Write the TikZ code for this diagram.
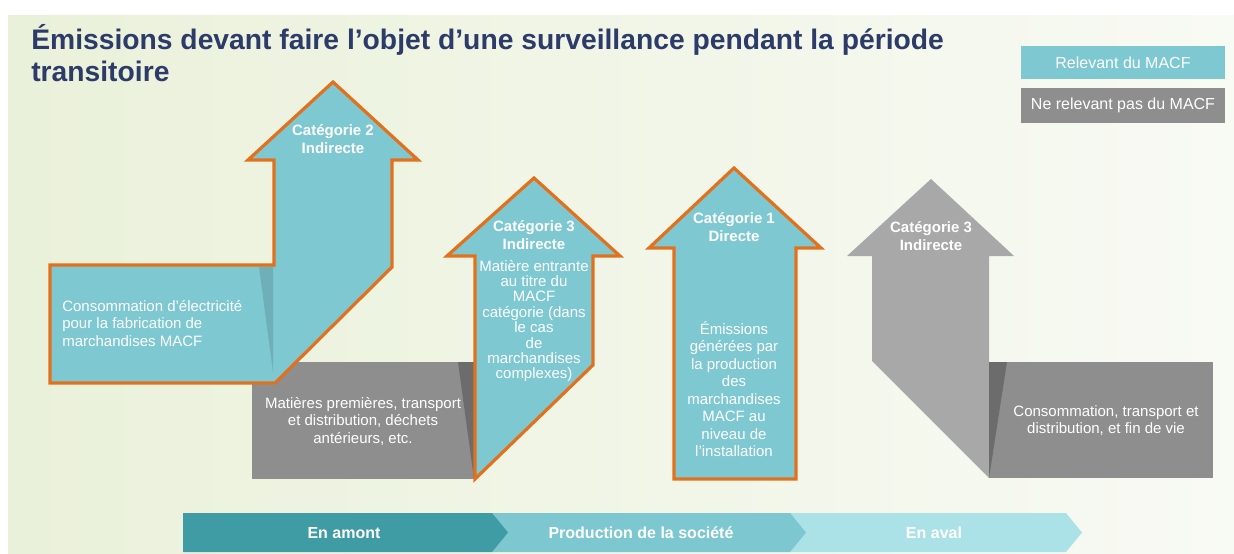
\documentclass[tikz,border=0pt]{standalone}
\usepackage{fontspec}
\setmainfont{Liberation Sans}
\usetikzlibrary{positioning}
\definecolor{macf}{HTML}{7EC8D2}
\definecolor{edge}{HTML}{E2711D}
\definecolor{lgray}{HTML}{A8A8A8}
\definecolor{mgray}{HTML}{8E8E8E}
\definecolor{dgray}{HTML}{6C6C6C}
\definecolor{navy}{HTML}{2D3B69}
\definecolor{bandA}{HTML}{3F9BA4}
\definecolor{bandB}{HTML}{7DC8D0}
\definecolor{bandC}{HTML}{ABE2E8}
\definecolor{bgl}{HTML}{EAF1DA}
\definecolor{bgr}{HTML}{F8FAF4}

\begin{document}
\begin{tikzpicture}[x=0.75pt, y=-0.75pt]
\tikzstyle{every node} = [text=white, inner sep=0pt, align=center, font=\fontsize{11.25}{13.1}\selectfont]
\tikzstyle{catlabel} = [font=\bfseries\fontsize{11.25}{13.1}\selectfont]
\tikzstyle{bandlabel} = [font=\bfseries\fontsize{12}{14}\selectfont]
\tikzstyle{legend} = [minimum width=153pt, font=\fontsize{12}{14}\selectfont]
\tikzstyle{upshape} = [fill=macf, draw=edge, line width=2.4pt, line join=miter]
\useasboundingbox (0,0) rectangle (1234,553);
\fill[white] (0,0) rectangle (1234,553);
\shade[left color=bgl, right color=bgr] (8,15) rectangle (1234,553);
% titre
\node[anchor=base west, text=navy, font=\bfseries\fontsize{21.2}{24}\selectfont] (title) at (31,49) {Émissions devant faire l’objet d’une surveillance pendant la période};
\node[anchor=base west, text=navy, font=\bfseries\fontsize{21.2}{24}\selectfont] (title2) at (31,81) {transitoire};
% legende
\node[legend, fill=macf, minimum height=24.75pt] (rel) at (1123,62.5) {Relevant du MACF};
\node[legend, fill=mgray, minimum height=26.25pt] (nrel) at (1123,105.5) {Ne relevant pas du MACF};
% bandeau
\fill[bandC] (790,513) -- (1066,513) -- (1082,532.5) -- (1066,552) -- (790,552) -- cycle;
\fill[bandB] (492,513) -- (790,513) -- (806,532.5) -- (790,552) -- (492,552) -- cycle;
\fill[bandA] (183,513) -- (492,513) -- (508,532.5) -- (492,552) -- (183,552) -- cycle;
\node[bandlabel] (amont) at (344,533) {En amont};
\node[bandlabel] (prod) at (641,533) {Production de la société};
\node[bandlabel] (aval) at (934,533) {En aval};
% amont
\fill[mgray] (252,362) rectangle (474,479);
\fill[dgray] (458,362) -- (474,362) -- (474,479) -- cycle;
\draw[upshape] (50,265) -- (274,265) -- (274,160) -- (248,160) -- (333,82) -- (418,160)
  -- (392,160) -- (392,267) -- (275,383) -- (50,383) -- cycle;
\fill[black, opacity=.12] (259,267) -- (273,267) -- (273,372) -- cycle;
\draw[upshape] (475,256) -- (447,256) -- (534,178) -- (620,256) -- (593,256) -- (593,365)
  -- (475,479) -- cycle;
\node[catlabel] (cat2) at (333,139) {Catégorie 2\\Indirecte};
\node[anchor=west, align=left] (elec) at (62,323.5) {Consommation d’électricité\\pour la fabrication de\\marchandises MACF};
\node (mat) at (363,421) {Matières premières, transport\\et distribution, déchets\\antérieurs, etc.};
\node[catlabel] (cat3a) at (534,235) {Catégorie 3\\Indirecte};
\node[font=\fontsize{11.25}{11.55}\selectfont] (entr) at (534,321) {Matière entrante\\au titre du\\MACF\\catégorie (dans\\le cas\\de\\marchandises\\complexes)};
% production
\draw[upshape] (674,479) -- (674,248) -- (649,248) -- (734,168) -- (821,248) -- (796,248)
  -- (796,479) -- cycle;
\node[catlabel] (cat1) at (734,227) {Catégorie 1\\Directe};
\node (prodtxt) at (734,389) {Émissions\\générées par\\la production\\des\\marchandises\\MACF au\\niveau de\\l’installation};
% aval
\fill[lgray] (872,256) -- (847,256) -- (931,179) -- (1014,256) -- (989,256) -- (989,478)
  -- (872,361) -- cycle;
\fill[mgray] (989,362) rectangle (1213,478);
\fill[dgray] (989,362) -- (1007,362) -- (989,478) -- cycle;
\node[catlabel] (cat3b) at (931,236) {Catégorie 3\\Indirecte};
\node (conso) at (1106,420.5) {Consommation, transport et\\distribution, et fin de vie};
\end{tikzpicture}
\end{document}
